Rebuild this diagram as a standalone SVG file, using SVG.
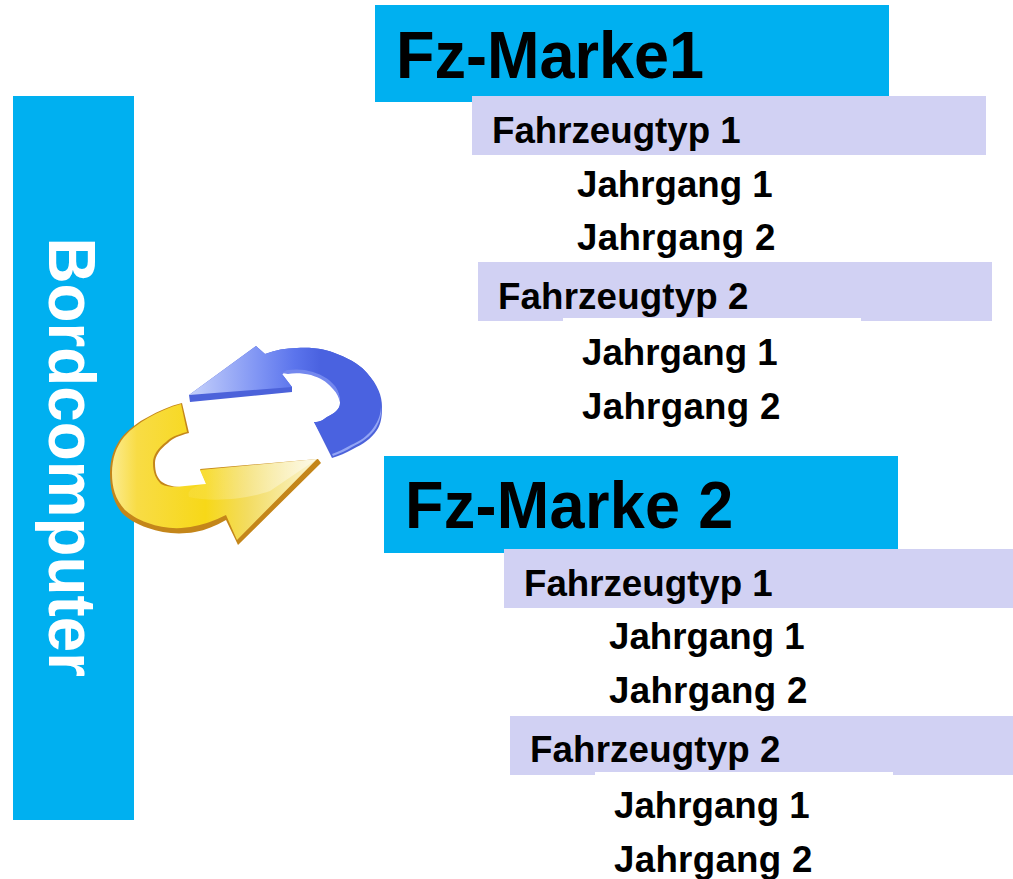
<svg xmlns="http://www.w3.org/2000/svg" width="1013" height="879" viewBox="0 0 1013 879">
<style>
text{font-family:"Liberation Sans",Arial,sans-serif;font-weight:700;fill:#000}
.b{fill:#00b0f0}.l{fill:#d1d1f3}.w{fill:#fff}
.h{font-size:63px}.t{font-size:36.7px}.s{letter-spacing:.3px}
</style>
<defs>
<linearGradient id="bl" gradientUnits="userSpaceOnUse" x1="195" y1="380" x2="320" y2="380"><stop offset="0" stop-color="#c0ccfa"/><stop offset=".5" stop-color="#8095f4"/><stop offset=".8" stop-color="#5b74ec"/><stop offset="1" stop-color="#4a62e0"/></linearGradient>
<linearGradient id="ye" gradientUnits="userSpaceOnUse" x1="112" y1="470" x2="320" y2="470"><stop offset="0" stop-color="#fbeb90"/><stop offset=".12" stop-color="#f8dc45"/><stop offset=".45" stop-color="#f7d818"/><stop offset=".65" stop-color="#f3dc60"/><stop offset="1" stop-color="#fbf6d8"/></linearGradient>
<linearGradient id="gl" gradientUnits="userSpaceOnUse" x1="190" y1="470" x2="310" y2="465"><stop offset="0" stop-color="#fff" stop-opacity=".08"/><stop offset="1" stop-color="#fff" stop-opacity=".45"/></linearGradient>
</defs>
<g id="bordcomputer"><rect class="b" x="13" y="96" width="121" height="724"/><text transform="translate(49 237.5) rotate(90) scale(1 1.05)" style="fill:#fff;font-size:63.8px">Bordcomputer</text></g>
<g id="connectors">
<path id="blue-side" d="M189 395L256 346L265 354C275 350 286 348 297 348C315 347 328 350 337 354C353 360 362 367 367 373C378 385 382 396 382 407C382 417 381 424 377 430C371 439 363 444 353 449C346 453 339 456 332 458L314 422C320 422 323 420 327 417C335 413 340 409 340 403C340 396 338 391 335 387C328 379 322 376 313 373C304 370 296 370 287 371L282 374L292 387L292 392L190 402Z" fill="#4c62da"/>
<path id="blue-arrow" d="M189 395L256 346L265 354C275 350 286 348 297 348C315 347 328 350 337 354C353 360 362 367 367 373C377 385 381 396 381 405C381 415 378 421 374 427C368 436 360 441 351 445C344 449 338 452 332 454L314 422C320 422 323 420 327 417C335 413 340 409 340 403C340 396 338 391 335 387C328 379 322 376 313 373C304 370 296 370 287 371L282 374L292 387Z" fill="url(#bl)"/>
<path id="blue-inner" d="M282 374L287 371C296 370 304 370 313 373C322 376 328 379 335 387C338 391 340 396 340 403C338 396 336 393 332 389C326 382 320 379 311 376C302 374 294 374 288 375Z" fill="#7488ee" transform="translate(0 -1)"/>
<path id="blue-rim" d="M381 405C381 415 378 421 374 427C368 436 360 441 351 445C344 449 338 452 332 454L333 456C340 453 346 451 352 447C362 442 370 437 376 428C380 421 382 414 381 405Z" fill="#93a5f5"/>
<path id="yellow-side" d="M182 403L189 433C178 436 173 438 168 443C160 449 155 456 155 463C155 472 157 478 162 482C170 487 178 487 185 487L207 485L200 469L318 459L321 463L238 545L226 520C215 526 206 530 195 532C178 535 162 533 148 528C136 524 128 519 122 513C113 502 110 488 110 473C110 459 114 447 122 437C129 429 138 422 148 417C158 411 170 406 182 403Z" fill="#c4861a"/>
<path id="yellow-arrow" d="M181 404L187 432C176 435 171 437 166 442C158 448 153 455 153 463C153 473 156 479 161 484C169 488 178 487 185 486L206 484L200 470L317 459L237 540L226 515C214 521 205 524 195 526C178 530 162 528 148 523C136 519 130 514 125 510C115 499 112 487 112 473C112 459 116 447 124 437C131 429 139 423 148 418C158 412 170 407 181 404Z" fill="url(#ye)"/>
<path id="yellow-gloss" d="M206 484L200 470L317 459L270 491C250 498 215 503 189 497C187 492 190 487 206 484Z" fill="url(#gl)"/>
</g>
<g id="marke1"><rect class="b" x="375" y="5" width="514" height="97"/><text class="h" transform="translate(396 77.5) scale(1 1.06)">Fz-Marke1</text></g>
<g id="m1-typ1"><rect class="l" x="472" y="96" width="514" height="59"/><text class="t" x="492" y="143">Fahrzeugtyp 1</text></g>
<g id="m1-t1-j1"><text class="t" x="577" y="197">Jahrgang 1</text></g>
<g id="m1-t1-j2"><text class="t s" x="577" y="250">Jahrgang 2</text></g>
<g id="m1-typ2"><rect class="l" x="478" y="262" width="514" height="59"/><rect class="w" x="563" y="318" width="298" height="3"/><text class="t s" x="498" y="309" style="letter-spacing:.15px">Fahrzeugtyp 2</text></g>
<g id="m1-t2-j1"><text class="t" x="582" y="365">Jahrgang 1</text></g>
<g id="m1-t2-j2"><text class="t s" x="582" y="419">Jahrgang 2</text></g>
<g id="marke2"><rect class="b" x="384" y="456" width="514" height="97"/><text class="h s" transform="translate(405 528) scale(1 1.06)">Fz-Marke 2</text></g>
<g id="m2-typ1"><rect class="l" x="504" y="549" width="514" height="59"/><text class="t" x="524" y="596">Fahrzeugtyp 1</text></g>
<g id="m2-t1-j1"><text class="t" x="609" y="649">Jahrgang 1</text></g>
<g id="m2-t1-j2"><text class="t s" x="609" y="703">Jahrgang 2</text></g>
<g id="m2-typ2"><rect class="l" x="510" y="716" width="514" height="59"/><rect class="w" x="595" y="772" width="298" height="3"/><text class="t s" x="530" y="762" style="letter-spacing:.15px">Fahrzeugtyp 2</text></g>
<g id="m2-t2-j1"><text class="t" x="614" y="818">Jahrgang 1</text></g>
<g id="m2-t2-j2"><text class="t s" x="614" y="872">Jahrgang 2</text></g>
</svg>
